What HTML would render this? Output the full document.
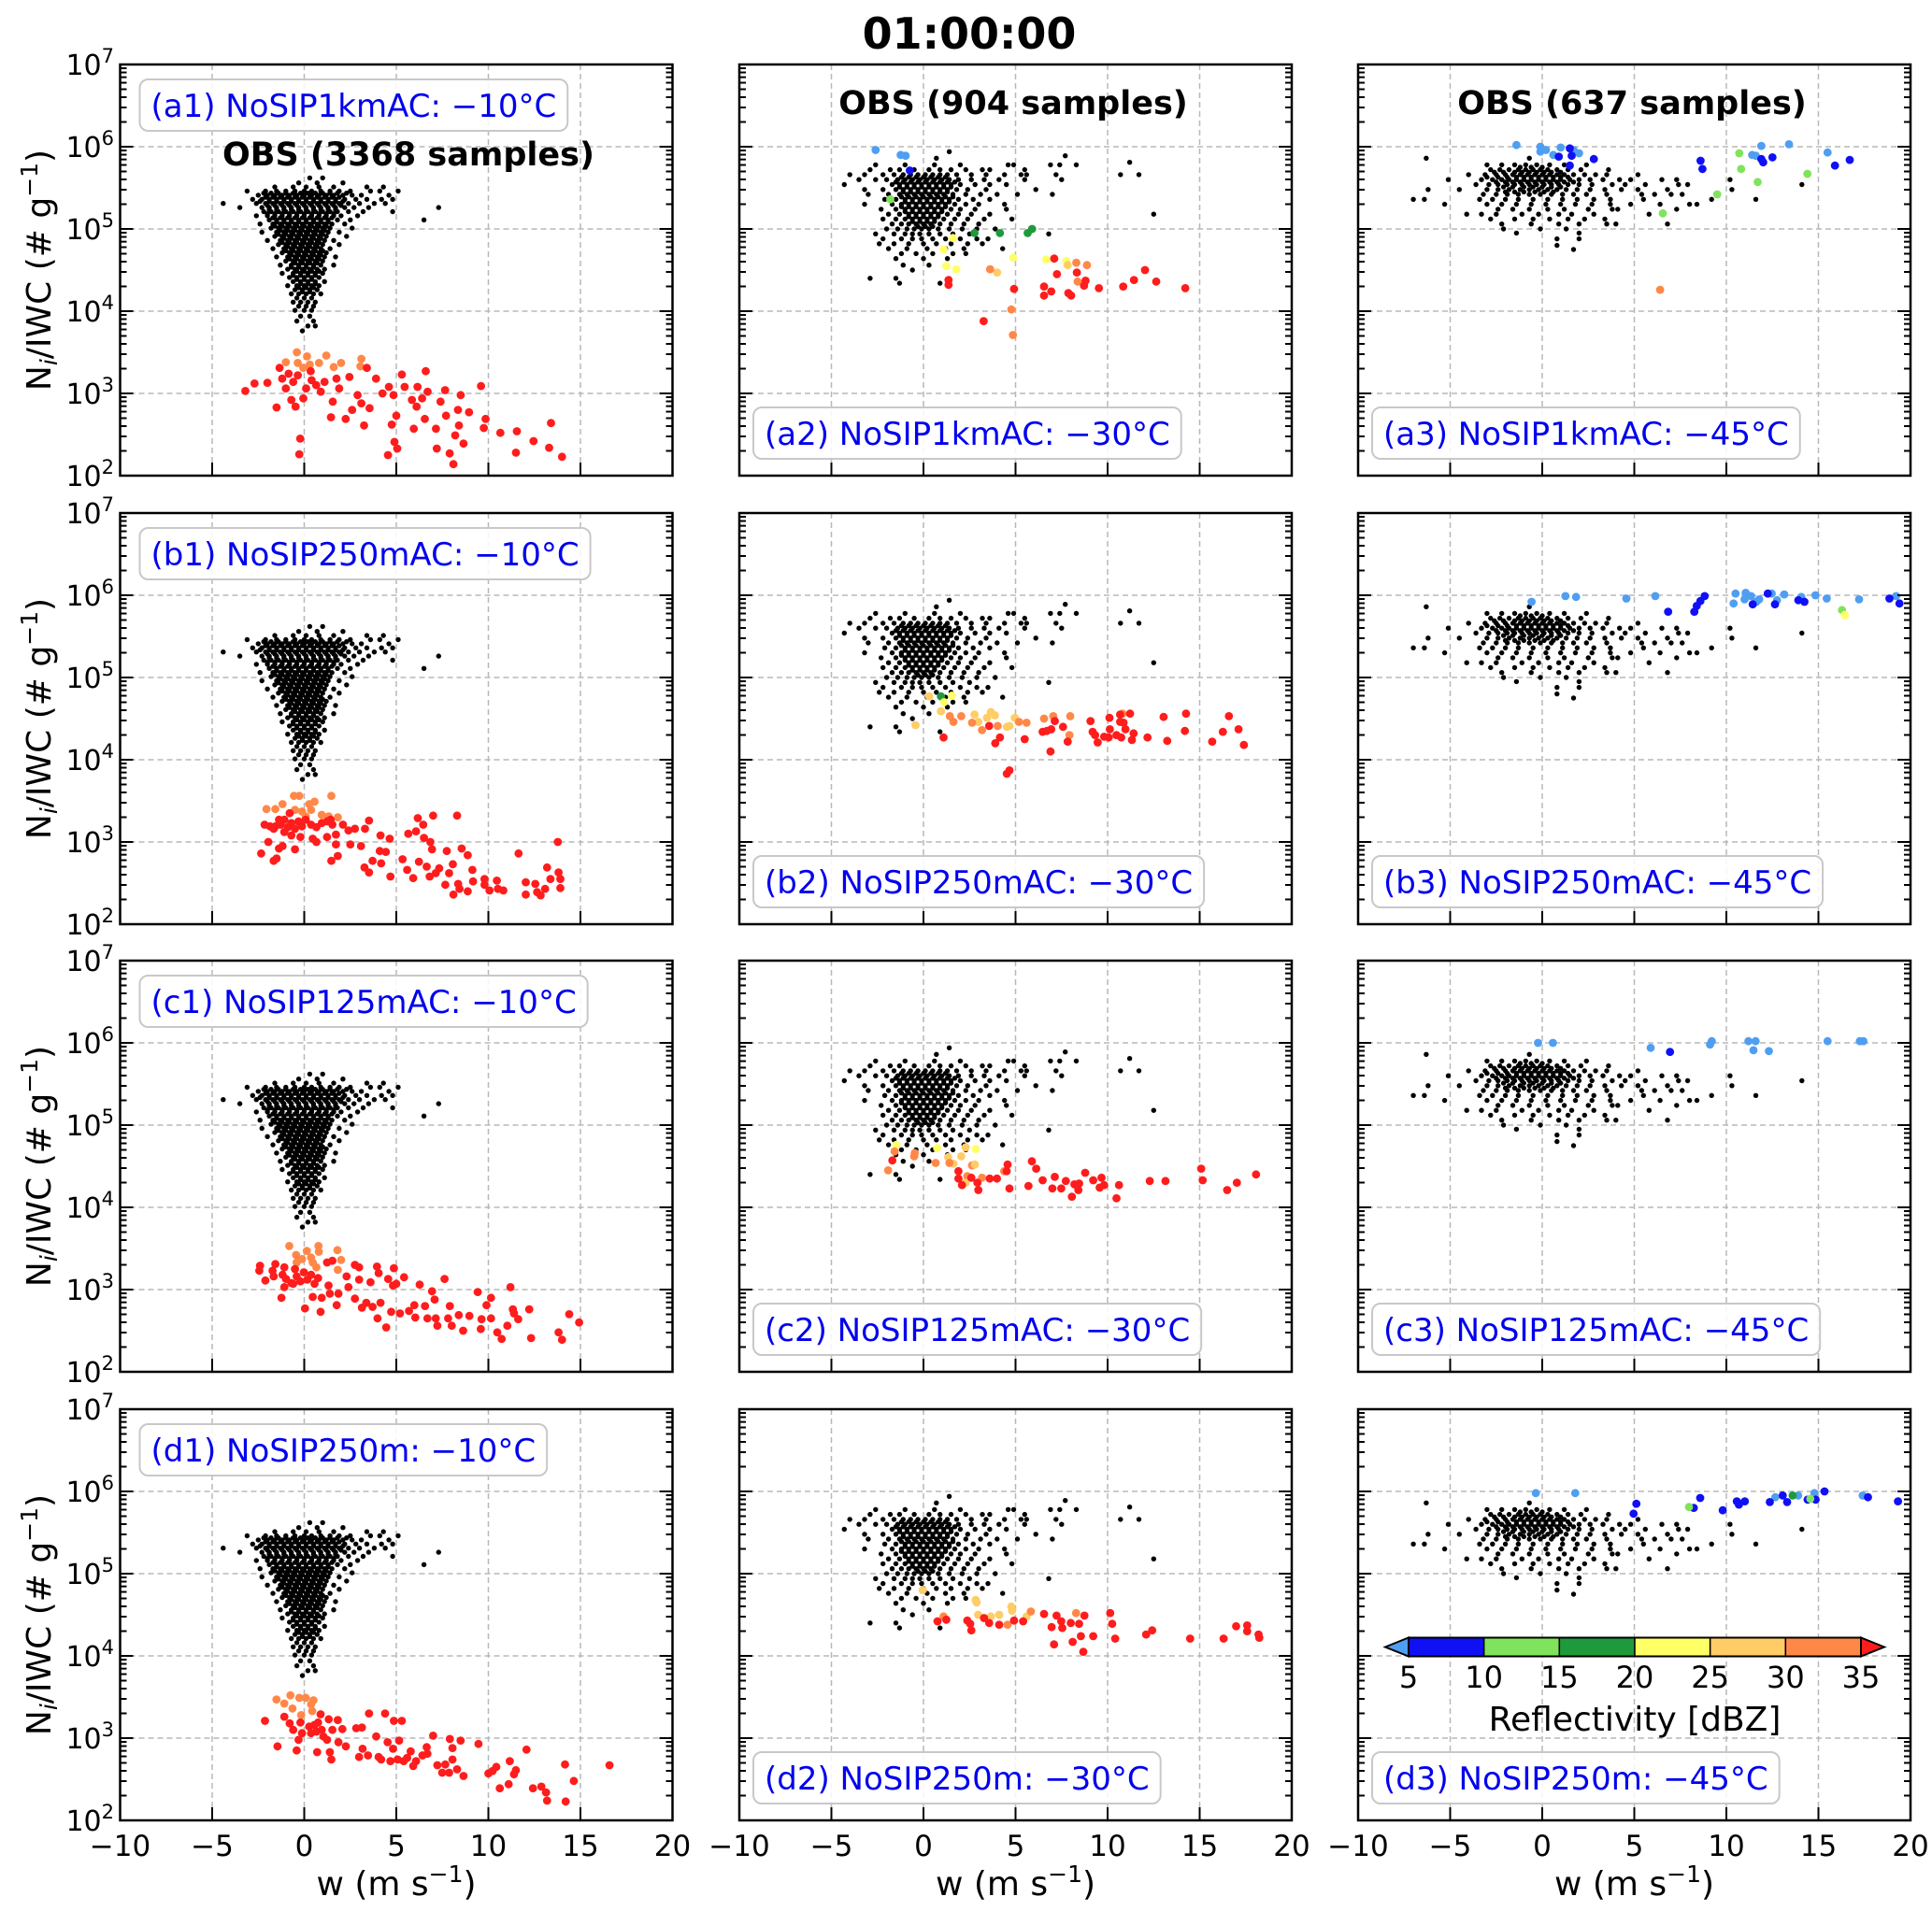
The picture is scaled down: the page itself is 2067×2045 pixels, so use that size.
<!DOCTYPE html>
<html><head><meta charset="utf-8">
<style>
html,body{margin:0;padding:0;background:#fff;}
svg{display:block;font-family:"DejaVu Sans","Liberation Sans",sans-serif;}
</style></head>
<body>
<svg id="fig" xmlns="http://www.w3.org/2000/svg" width="2067" height="2045" viewBox="0 0 2067 2045">
<rect x="0" y="0" width="2067" height="2045" fill="#fff"/>
<text x="1037" y="52" text-anchor="middle" font-size="46" font-weight="bold">01:00:00</text>
</svg>
<script>
// ---------- data ----------
const xTicks = [-10,-5,0,5,10,15,20];
const xTickLabels = ["\u221210","\u22125","0","5","10","15","20"];
const yDecades = [2,3,4,5,6,7];
const cbBounds = [5,10,15,20,25,30,35];
const cbColors = ["#4f9ef2","#1010f5","#80e35c","#1e9a3c","#ffff66","#ffcc66","#ff8848","#ff1c1c"];
const rowNames = ["a","b","c","d"];
const rowModels = ["NoSIP1kmAC","NoSIP250mAC","NoSIP125mAC","NoSIP250m"];
const colTemps = ["\u221210\u00b0C","\u221230\u00b0C","\u221245\u00b0C"];
const obsCounts = [3368,904,637];

// OBS clouds: rows of [log10(N/IWC), [w values]]
const obs1Rows = [
[5.62,[0.3,1.0]],[5.56,[-0.3,0.7,2.1]],[5.51,[-1.6,-0.6,0.1,0.8,1.6,3.4,4.3]],
[5.46,[-3.1,-2.1,-1.5,-1.0,-0.5,0.0,0.4,0.9,1.4,1.9,2.5,3.6,4.1,5.1]],
[5.41,[-2.5,-2.0,-1.6,-1.2,-0.8,-0.4,0.0,0.4,0.8,1.2,1.6,2.1,2.6,3.1,4.6]],
[5.36,[-2.8,-2.3,-1.9,-1.5,-1.1,-0.7,-0.3,0.1,0.5,0.9,1.3,1.7,2.2,2.8,3.4,4.2,4.8]],
[5.31,[-4.4,-2.6,-2.1,-1.7,-1.3,-0.9,-0.5,-0.1,0.3,0.7,1.1,1.5,1.9,2.4,3.0,3.8,4.4]],
[5.26,[-3.5,-2.3,-1.9,-1.5,-1.1,-0.7,-0.3,0.1,0.5,0.9,1.3,1.7,2.2,2.7,3.5,7.3]],
[5.21,[-2.2,-1.8,-1.4,-1.0,-0.6,-0.2,0.2,0.6,1.0,1.4,1.8,2.4,3.2,4.8]],
[5.16,[-2.6,-2.0,-1.6,-1.2,-0.8,-0.4,0.0,0.4,0.8,1.2,1.6,2.0,2.9]],
[5.11,[-1.9,-1.5,-1.1,-0.7,-0.3,0.1,0.5,0.9,1.3,1.8,2.5,6.5]],
[5.06,[-2.4,-1.7,-1.3,-0.9,-0.5,-0.1,0.3,0.7,1.1,1.5,2.2]],
[5.01,[-1.8,-1.4,-1.0,-0.6,-0.2,0.2,0.6,1.0,1.4,2.6]],
[4.96,[-2.3,-1.5,-1.1,-0.7,-0.3,0.1,0.5,0.9,1.3,1.9]],
[4.91,[-1.6,-1.2,-0.8,-0.4,0.0,0.4,0.8,1.2,2.3]],
[4.86,[-2.0,-1.3,-0.9,-0.5,-0.1,0.3,0.7,1.1,1.6]],
[4.81,[-1.4,-1.0,-0.6,-0.2,0.2,0.6,1.0,1.9]],
[4.76,[-1.7,-1.1,-0.7,-0.3,0.1,0.5,0.9,1.4]],
[4.71,[-1.2,-0.8,-0.4,0.0,0.4,0.8,1.2]],
[4.66,[-1.5,-0.9,-0.5,-0.1,0.3,0.7,1.1,1.7]],
[4.61,[-1.0,-0.6,-0.2,0.2,0.6,1.0]],
[4.56,[-1.3,-0.7,-0.3,0.1,0.5,0.9,1.6]],
[4.51,[-0.9,-0.5,-0.1,0.3,0.7,1.1]],
[4.46,[-1.2,-0.6,-0.2,0.2,0.6,1.0]],
[4.41,[-0.8,-0.4,0.0,0.4,0.8]],
[4.36,[-0.6,-0.2,0.2,0.6,1.1]],
[4.31,[-0.9,-0.4,0.0,0.4,0.8]],
[4.26,[-0.5,-0.1,0.3,0.7]],
[4.21,[-0.7,-0.3,0.1,0.5,0.9]],
[4.16,[-0.4,0.0,0.4]],
[4.11,[-0.6,-0.2,0.2,0.6]],
[4.06,[-0.3,0.1,0.5]],
[4.01,[-0.5,0.0,0.4]],
[3.94,[-0.2,0.3]],[3.88,[-0.4,0.5]],[3.82,[0.2,0.6]],[3.76,[-0.1]]
];
const obs1Core = [
[5.435,[-2.2,-1.8,-1.4,-1.0,-0.6,-0.2,0.2,0.6,1.0,1.4,1.8,2.3]],
[5.385,[-2.1,-1.7,-1.3,-0.9,-0.5,-0.1,0.3,0.7,1.1,1.5,1.9]],
[5.335,[-2.4,-1.9,-1.5,-1.1,-0.7,-0.3,0.1,0.5,0.9,1.3,1.7,2.1]],
[5.285,[-2.0,-1.6,-1.2,-0.8,-0.4,0.0,0.4,0.8,1.2,1.6,2.0]],
[5.235,[-1.9,-1.5,-1.1,-0.7,-0.3,0.1,0.5,0.9,1.3,1.7]],
[5.185,[-2.0,-1.6,-1.2,-0.8,-0.4,0.0,0.4,0.8,1.2,1.6]],
[5.135,[-1.7,-1.3,-0.9,-0.5,-0.1,0.3,0.7,1.1,1.5]],
[5.085,[-1.5,-1.1,-0.7,-0.3,0.1,0.5,0.9,1.3]],
[5.035,[-1.6,-1.2,-0.8,-0.4,0.0,0.4,0.8,1.2]],
[4.985,[-1.3,-0.9,-0.5,-0.1,0.3,0.7,1.1]],
[4.935,[-1.4,-1.0,-0.6,-0.2,0.2,0.6,1.0]],
[4.885,[-1.1,-0.7,-0.3,0.1,0.5,0.9]],
[4.835,[-1.2,-0.8,-0.4,0.0,0.4,0.8]],
[4.785,[-0.9,-0.5,-0.1,0.3,0.7]],
[4.735,[-1.0,-0.6,-0.2,0.2,0.6,1.0]],
[4.685,[-0.7,-0.3,0.1,0.5,0.9]],
[4.635,[-0.8,-0.4,0.0,0.4,0.8]],
[4.585,[-0.5,-0.1,0.3,0.7]],
[4.535,[-0.7,-0.3,0.1,0.5]],
[4.485,[-0.4,0.0,0.4,0.8]],
[4.435,[-0.6,-0.2,0.2,0.6]],
[4.385,[-0.4,0.0,0.4]],
[4.335,[-0.2,0.2,0.6]],
[4.285,[-0.3,0.1,0.5]],
[4.235,[-0.1,0.3]]
];
const obs2Rows = [
[5.94,[1.4]],[5.89,[7.7]],[5.86,[0.7]],[5.81,[11.2]],
[5.78,[-2.6,-1.0,0.6,2.0,4.6,4.9,6.9,7.4,8.3]],
[5.72,[-2.9,-1.8,-1.3,-0.5,0.3,0.9,1.5,2.3,3.2,3.6,5.5]],
[5.66,[-4.0,-3.2,-2.2,-1.6,-1.1,-0.7,-0.3,0.1,0.5,0.9,1.3,1.8,2.6,3.4,4.4,5.3,5.6,7.2,10.7,11.7]],
[5.60,[-3.5,-2.6,-2.0,-1.4,-1.0,-0.6,-0.2,0.2,0.6,1.0,1.4,1.9,2.6,3.3,4.1,5.5,7.5]],
[5.54,[-4.3,-1.7,-1.3,-0.9,-0.5,-0.1,0.3,0.7,1.1,1.5,2.0,2.8,3.6,4.5]],
[5.48,[-3.2,-2.2,-1.5,-1.1,-0.7,-0.3,0.1,0.5,0.9,1.3,1.8,2.4,3.4,6.1]],
[5.42,[-3.0,-1.9,-1.3,-0.9,-0.5,-0.1,0.3,0.7,1.1,1.6,2.3,3.1,4.0,5.1,7.0]],
[5.36,[-2.1,-1.5,-1.0,-0.6,-0.2,0.2,0.6,1.0,1.4,1.9,2.7,3.6]],
[5.30,[-3.2,-1.7,-1.2,-0.8,-0.4,0.0,0.4,0.8,1.2,1.7,2.3,3.0,4.4]],
[5.24,[-2.3,-1.5,-1.0,-0.6,-0.2,0.2,0.6,1.0,1.5,2.0,2.8,4.5]],
[5.18,[-1.9,-1.3,-0.8,-0.4,0.0,0.4,0.8,1.3,1.9,2.6,3.6,12.5]],
[5.12,[-2.2,-1.5,-1.0,-0.6,-0.2,0.2,0.6,1.1,1.7,2.4,3.3,4.8]],
[5.06,[-1.7,-1.2,-0.8,-0.4,0.0,0.4,0.9,1.5,2.2,3.0]],
[5.00,[-2.0,-1.4,-0.9,-0.5,-0.1,0.3,0.8,1.4,2.1,2.9,3.9]],
[4.94,[-2.6,-1.6,-1.0,-0.6,-0.2,0.3,0.9,1.6,2.5,6.8]],
[4.88,[-2.2,-1.2,-0.6,-0.1,0.5,1.2,2.0,2.9,3.5]],
[4.82,[-2.4,-1.6,-0.8,0.0,0.7,1.5,2.4,3.2]],
[4.76,[-1.9,-0.9,0.2,1.2,2.2,4.3]],
[4.70,[-1.2,-0.4,0.5,1.6,2.3]],
[4.64,[-1.5,0.0,1.3]],[4.56,[-1.1,0.3]],[4.50,[-0.6]],[4.40,[-2.9,-1.5]],[4.34,[-1.3,0.9]]
];
const obs2Core = [
[5.63,[-1.2,-0.8,-0.4,0.0,0.4,0.8,1.2]],
[5.57,[-1.5,-1.1,-0.7,-0.3,0.1,0.5,0.9,1.3,1.7]],
[5.51,[-1.3,-0.9,-0.5,-0.1,0.3,0.7,1.1,1.5]],
[5.45,[-1.1,-0.7,-0.3,0.1,0.5,0.9,1.3]],
[5.39,[-1.2,-0.8,-0.4,0.0,0.4,0.8,1.2,1.6]],
[5.33,[-1.0,-0.6,-0.2,0.2,0.6,1.0,1.4]],
[5.27,[-1.2,-0.8,-0.4,0.0,0.4,0.8,1.2]],
[5.21,[-1.0,-0.6,-0.2,0.2,0.6,1.0]],
[5.15,[-0.8,-0.4,0.0,0.4,0.8]],
[5.09,[-0.6,-0.2,0.2,0.6]],
[5.03,[-0.3,0.1,0.5]]
];
const obs3Rows = [
[5.86,[-6.3,-0.7]],
[5.78,[-3.0,-2.2,-1.5,-0.9,-0.3,0.4,1.2,2.4]],
[5.72,[-2.8,-2.3,-1.8,-1.3,-0.9,-0.5,-0.1,0.3,0.8,1.4,2.1,3.6]],
[5.66,[-4.0,-3.1,-2.5,-2.0,-1.6,-1.2,-0.8,-0.4,0.0,0.4,0.8,1.2,1.7,2.3,2.9,3.5,5.2]],
[5.60,[-5.1,-3.3,-2.7,-2.2,-1.8,-1.4,-1.0,-0.6,-0.2,0.2,0.6,1.0,1.5,2.0,2.6,3.3,4.2,4.8,6.5,7.3,10.2]],
[5.54,[-3.6,-2.9,-2.4,-1.9,-1.5,-1.1,-0.7,-0.3,0.1,0.5,0.9,1.4,2.0,2.7,3.8,4.5,5.6,7.4,7.9,14.1]],
[5.48,[-6.2,-4.5,-3.0,-2.4,-1.8,-1.2,-0.7,-0.2,0.3,0.8,1.3,1.9,2.6,3.4,4.3,5.2,6.8,10.3]],
[5.42,[-3.2,-2.5,-1.9,-1.3,-0.7,-0.1,0.5,1.1,1.7,2.4,3.5,5.4,6.1,7.0,7.6]],
[5.36,[-7.0,-6.4,-3.4,-2.7,-2.0,-1.3,-0.5,0.3,1.1,1.9,2.8,3.7,5.5,9.2,11.6]],
[5.30,[-5.3,-3.0,-2.2,-1.4,-0.6,0.2,1.0,1.8,2.7,3.7,4.8,6.4,8.0,8.4]],
[5.24,[-2.4,-1.6,-0.7,0.3,1.2,2.5,3.8,4.1,7.3]],
[5.18,[-4.1,-3.3,-2.5,-1.1,-0.2,0.9,1.6,2.8,5.8]],
[5.12,[-2.8,-1.5,-0.5,0.4,1.4,2.3,3.4]],
[5.06,[-2.2,-0.6,0.9,2.0,3.5,4.0,6.8]],
[5.00,[-2.1,-0.1,1.3]],[4.95,[-1.4,2.0]],[4.88,[0.8,2.0]],[4.80,[0.8]],[4.75,[1.7]]
];
const obs3Core = [
[5.75,[-1.2,-0.6,0.0]],
[5.69,[-2.6,-2.1,-1.5,-1.1,-0.7,-0.3,0.1,0.5,1.0]],
[5.63,[-3.0,-2.4,-1.9,-1.4,-1.0,-0.6,-0.2,0.2,0.6,1.0,1.4]],
[5.57,[-2.5,-2.0,-1.6,-1.2,-0.8,-0.4,0.0,0.4,0.8,1.2,1.7]],
[5.51,[-2.1,-1.6,-1.0,-0.5,0.0,0.5,1.0]],
[5.45,[-2.0,-1.5,-1.0,-0.4,0.1,0.6]]
];

// Model points: [w, log10(N/IWC), dBZ]
const mA1 = [[-0.4,3.5,32],[0.15,3.45,32],[-1,3.38,32],[-0.35,3.37,32],[1.2,3.46,32],[0.8,3.37,32],[2.0,3.37,32],[3.1,3.42,32],[3.05,3.33,32],[1.6,3.32,32],[-0.05,3.31,32],[0.3,3.35,32],
[-3.2,3.03,38],[-2.7,3.12,38],[-2.0,3.13,38],[-1.5,2.83,38],[-1.34,3.31,38],[-1.2,3.18,38],[-1.0,3.06,38],[-0.85,3.24,38],[-0.7,2.92,38],[-0.47,2.84,38],[-0.6,3.14,38],[-0.35,3.22,38],[-0.22,2.45,38],[-0.27,2.26,38],[-0.05,2.94,38],[0.1,3.06,38],[0.4,3.16,38],[0.35,3.27,38],[0.65,3.1,38],[0.9,3.02,38],[1.1,3.14,38],[1.45,2.71,38],[1.55,2.9,38],[1.75,3.18,38],[1.9,3.06,38],[2.25,2.69,38],[2.45,3.2,38],[2.6,2.8,38],[2.9,2.98,38],[3.1,2.88,38],[3.25,2.61,38],[3.4,3.31,38],[3.55,2.82,38],[3.9,3.18,38],[4.25,3.0,38],[4.6,3.08,38],[4.75,2.62,38],[4.85,2.98,38],[4.9,2.41,38],[5.05,2.33,38],[5.0,2.73,38],[4.55,2.25,38],[5.3,3.23,38],[5.45,3.08,38],[5.85,2.92,38],[5.95,2.57,38],[6.1,2.84,38],[6.15,3.08,38],[6.4,2.94,38],[6.6,3.27,38],[6.55,2.69,38],[6.7,3.02,38],[7.15,2.57,38],[7.2,2.33,38],[7.4,2.9,38],[7.65,3.04,38],[7.7,2.73,38],[7.9,2.27,38],[8.1,2.14,38],[8.2,2.49,38],[8.35,2.8,38],[8.4,2.61,38],[8.5,2.98,38],[8.65,2.39,38],[8.95,2.77,38],[9.6,3.09,38],[9.75,2.58,38],[9.85,2.69,38],[10.65,2.52,38],[11.5,2.28,38],[11.55,2.54,38],[12.45,2.42,38],[13.3,2.34,38],[13.4,2.64,38],[14.0,2.23,38]];
const mA2 = [[-2.6,5.96,3],[-1.24,5.9,3],[-0.97,5.89,3],[-0.74,5.71,7],[-1.8,5.36,12],[2.77,4.95,17],[4.15,4.95,17],[5.66,4.95,17],[5.9,5.0,17],[1.6,4.89,22],[1.09,4.75,22],[1.24,4.55,22],[1.78,4.51,22],[4.88,4.65,22],[6.67,4.63,22],[7.75,4.61,22],[7.83,4.56,27],[4.0,4.47,27],[3.62,4.51,32],[8.3,4.59,32],[8.88,4.56,32],[8.37,4.36,32],[4.77,4.02,32],[4.86,3.71,32],
[7.1,4.64,38],[1.36,4.38,38],[1.36,4.32,38],[4.92,4.27,38],[6.55,4.3,38],[6.55,4.19,38],[6.94,4.24,38],[7.25,4.45,38],[7.87,4.22,38],[8.02,4.19,38],[8.33,4.47,38],[8.72,4.31,38],[8.8,4.37,38],[9.53,4.28,38],[10.85,4.3,38],[11.43,4.38,38],[12.03,4.5,38],[12.64,4.36,38],[14.22,4.28,38],[3.27,3.88,38]];
const mA3 = [[-1.4,6.02,3],[-0.1,6.0,3],[-0.1,5.94,3],[0.2,5.96,3],[1.0,5.99,3],[0.6,5.9,3],[1.7,5.96,3],[2.0,5.92,3],[11.4,5.9,3],[11.6,5.89,3],[11.9,6.01,3],[13.4,6.03,3],[15.5,5.93,3],
[1.5,5.98,7],[0.9,5.88,7],[1.6,5.89,7],[1.5,5.77,7],[2.8,5.85,7],[8.6,5.83,7],[8.7,5.73,7],[11.9,5.85,7],[12.0,5.81,7],[12.5,5.87,7],[15.9,5.77,7],[16.7,5.84,7],
[10.7,5.92,12],[10.8,5.73,12],[11.7,5.57,12],[14.4,5.67,12],[9.5,5.42,12],[6.55,5.19,12],[6.4,4.26,32]];
const mB1 = [[-2.05,3.4,32],[-1.57,3.4,32],[-1.18,3.46,32],[-0.56,3.56,32],[-0.27,3.56,32],[1.47,3.56,32],[-0.5,3.39,32],[-0.12,3.37,32],[0.27,3.46,32],[0.56,3.49,32],[0.37,3.39,32],[0.95,3.33,32],[1.82,3.3,32],[1.33,3.31,32],[0.08,3.31,32],
[-2.15,3.21,38],[-1.86,3.19,38],[-1.57,3.19,38],[-1.28,3.21,38],[-1.08,3.27,38],[-0.89,3.18,38],[-0.7,3.23,38],[-0.5,3.16,38],[-0.31,3.25,38],[-0.12,3.19,38],[0.08,3.27,38],[0.37,3.21,38],[0.66,3.18,38],[0.95,3.23,38],[1.24,3.25,38],[1.43,3.27,38],[1.53,3.21,38],[-0.79,3.35,38],[-1.37,3.27,38],[-1.66,3.16,38],[-1.08,3.12,38],[-0.7,3.08,38],[-0.21,3.06,38],[-1.18,2.95,38],[-1.37,2.92,38],[-1.95,3.0,38],[-0.5,2.91,38],[-2.34,2.86,38],[-1.66,2.77,38],[-1.5,2.8,38],[0.46,3.04,38],[0.66,3.0,38],[1.24,3.06,38],[1.72,2.97,38],[1.82,2.83,38],[1.47,2.77,38],[1.72,3.09,38],[2.1,3.21,38],[2.4,3.14,38],[2.5,2.97,38],[2.75,3.16,38],[3.08,2.95,38],[3.3,3.16,38],[3.52,3.26,38],[3.27,2.69,38],[3.52,2.63,38],[3.71,2.77,38],[4.14,3.08,38],[4.1,2.89,38],[4.18,2.74,38],[4.43,2.88,38],[4.68,2.58,38],[4.64,3.04,38],[5.34,2.79,38],[5.59,2.66,38],[5.65,3.1,38],[5.92,2.56,38],[6.07,3.13,38],[6.17,3.29,38],[6.23,2.76,38],[6.46,3.21,38],[6.5,3.05,38],[6.65,2.7,38],[6.85,3.0,38],[6.94,2.91,38],[7.0,3.32,38],[6.81,2.58,38],[7.14,2.62,38],[7.33,2.68,38],[7.66,2.48,38],[7.74,2.89,38],[7.87,2.62,38],[8.07,2.73,38],[8.1,2.36,38],[8.3,3.32,38],[8.36,2.49,38],[8.43,2.43,38],[8.55,2.92,38],[8.88,2.4,38],[8.88,2.84,38],[9.13,2.66,38],[9.17,2.52,38],[9.79,2.55,38],[9.79,2.48,38],[10.06,2.41,38],[10.46,2.53,38],[10.52,2.43,38],[10.81,2.41,38],[11.64,2.86,38],[12.03,2.36,38],[12.03,2.51,38],[12.55,2.49,38],[12.65,2.39,38],[12.84,2.35,38],[13.08,2.43,38],[13.19,2.69,38],[13.37,2.55,38],[13.81,2.63,38],[13.91,2.55,38],[13.91,2.44,38],[13.77,3.0,38]];
const mB2 = [[0.31,4.77,27],[0.95,4.77,17],[1.55,4.78,22],[1.12,4.7,22],[0.95,4.59,27],[-0.43,4.42,27],[1.43,4.53,32],[1.63,4.46,32],[2.05,4.53,32],[2.77,4.55,27],[2.98,4.46,27],[2.64,4.45,32],[3.18,4.36,32],[3.45,4.51,27],[3.66,4.58,27],[3.88,4.54,27],[4.03,4.41,32],[4.53,4.4,27],[4.67,4.41,27],[4.96,4.51,27],[5.19,4.46,32],[5.6,4.45,32],[6.55,4.5,32],[7.05,4.53,32],[7.97,4.53,32],[7.93,4.3,32],[10.81,4.56,32],
[1.09,4.27,38],[3.57,4.41,38],[3.9,4.2,38],[4.15,4.27,38],[5.5,4.25,38],[4.53,3.83,38],[4.67,3.87,38],[6.47,4.34,38],[6.7,4.35,38],[6.94,4.37,38],[7.13,4.47,38],[6.9,4.1,38],[7.58,4.4,38],[7.83,4.22,38],[9.07,4.47,38],[9.19,4.34,38],[9.32,4.3,38],[9.46,4.21,38],[9.81,4.28,38],[10.06,4.27,38],[10.1,4.51,38],[10.12,4.37,38],[10.68,4.55,38],[10.68,4.46,38],[10.87,4.45,38],[10.97,4.37,38],[10.48,4.3,38],[10.74,4.27,38],[11.22,4.56,38],[11.41,4.32,38],[11.32,4.24,38],[12.17,4.27,38],[13.04,4.52,38],[13.24,4.23,38],[14.26,4.56,38],[14.2,4.35,38],[15.68,4.22,38],[16.26,4.34,38],[16.59,4.53,38],[17.11,4.37,38],[17.4,4.18,38]];
const mB3 = [[-0.58,5.92,3],[1.26,5.99,3],[1.84,5.98,3],[4.57,5.96,3],[6.14,5.99,3],[10.5,6.02,3],[10.39,5.9,3],[11.05,6.03,3],[10.99,5.95,3],[11.34,5.99,3],[11.63,5.92,3],[11.78,5.95,3],[12.46,6.02,3],[12.75,5.94,3],[13.14,6.01,3],[14.07,5.98,3],[14.84,6.0,3],[15.45,5.96,3],[17.21,5.95,3],[19.22,5.99,3],
[6.84,5.8,7],[8.26,5.8,7],[8.39,5.87,7],[8.59,5.93,7],[8.82,5.99,7],[11.43,5.89,7],[12.25,6.02,7],[12.64,5.89,7],[13.91,5.94,7],[14.24,5.92,7],[18.86,5.96,7],[19.4,5.9,7],[16.28,5.82,12],[16.43,5.76,22]];
const mC1 = [[-0.81,3.53,32],[-0.44,3.42,32],[0.14,3.47,32],[0.77,3.53,32],[0.79,3.46,32],[1.8,3.48,32],[2.0,3.36,32],[-0.12,3.37,32],[0.37,3.39,32],[0.46,3.33,32],[-0.41,3.33,32],[1.82,3.24,32],[0.66,3.27,32],
[-2.4,3.29,38],[-2.44,3.23,38],[-2.11,3.11,38],[-1.72,3.23,38],[-1.57,3.31,38],[-1.66,3.16,38],[-1.18,3.18,38],[-1.08,3.27,38],[-0.99,3.13,38],[-0.7,3.08,38],[-0.5,3.25,38],[-0.41,3.16,38],[-0.21,3.1,38],[-0.02,3.21,38],[0.17,3.12,38],[0.37,3.18,38],[0.56,3.07,38],[0.75,3.14,38],[-1.08,3.03,38],[-1.24,2.9,38],[-0.6,3.07,38],[0.04,2.77,38],[0.46,2.91,38],[0.89,2.73,38],[0.95,2.9,38],[1.32,3.05,38],[1.39,2.95,38],[1.76,2.81,38],[1.86,2.95,38],[1.24,3.33,38],[1.53,3.35,38],[2.3,3.16,38],[2.4,3.03,38],[2.75,3.3,38],[2.98,3.27,38],[2.98,3.12,38],[2.75,2.89,38],[3.13,2.78,38],[3.37,2.84,38],[3.6,3.09,38],[3.71,2.79,38],[3.95,3.28,38],[4.04,3.2,38],[4.14,2.84,38],[3.98,2.65,38],[4.45,2.54,38],[4.56,3.13,38],[4.72,2.73,38],[4.82,3.05,38],[4.87,3.26,38],[5.0,3.07,38],[5.2,2.71,38],[5.42,3.15,38],[5.69,2.74,38],[5.98,2.81,38],[6.03,2.66,38],[6.27,3.06,38],[6.56,2.8,38],[6.69,2.65,38],[6.94,2.98,38],[7.08,2.88,38],[7.14,2.65,38],[7.23,2.56,38],[7.62,3.13,38],[7.81,2.65,38],[7.91,2.8,38],[8.01,2.56,38],[8.39,2.69,38],[8.63,2.5,38],[8.97,2.68,38],[9.42,2.97,38],[9.59,2.52,38],[9.63,2.64,38],[9.9,2.81,38],[10.14,2.9,38],[10.14,2.65,38],[10.48,2.48,38],[10.72,2.4,38],[11.03,2.56,38],[11.2,3.03,38],[11.33,2.76,38],[11.39,2.71,38],[11.62,2.64,38],[12.22,2.76,38],[12.32,2.41,38],[13.81,2.48,38],[14.0,2.39,38],[14.39,2.7,38],[14.93,2.6,38]];
const mC2 = [[-1.47,4.76,22],[0.74,4.72,22],[2.83,4.71,22],[2.29,4.73,27],[-1.57,4.68,32],[-0.47,4.66,32],[-0.5,4.62,32],[-1.92,4.45,32],[1.34,4.61,27],[2.05,4.62,27],[1.63,4.53,27],[1.41,4.54,32],[0.66,4.54,32],[2.64,4.51,32],[2.79,4.52,27],[2.38,4.38,32],[3.18,4.36,32],[4.38,4.44,32],[2.29,4.3,27],
[-1.69,4.57,38],[1.9,4.44,38],[1.9,4.35,38],[2.09,4.27,38],[2.6,4.36,38],[2.93,4.3,38],[2.98,4.21,38],[3.6,4.35,38],[3.99,4.35,38],[4.57,4.52,38],[4.52,4.44,38],[4.67,4.23,38],[5.7,4.26,38],[5.89,4.56,38],[6.12,4.47,38],[6.47,4.33,38],[7.0,4.23,38],[7.13,4.37,38],[7.48,4.23,38],[7.73,4.32,38],[8.06,4.13,38],[8.2,4.28,38],[8.45,4.29,38],[8.41,4.21,38],[8.78,4.42,38],[9.22,4.33,38],[9.57,4.24,38],[9.67,4.36,38],[9.81,4.27,38],[10.48,4.11,38],[10.62,4.27,38],[12.29,4.32,38],[13.14,4.32,38],[15.08,4.47,38],[15.16,4.33,38],[16.49,4.21,38],[17.02,4.3,38],[18.06,4.4,38]];
const mC3 = [[-0.23,6.0,3],[0.58,6.0,3],[5.89,5.94,3],[9.11,5.98,3],[9.21,6.02,3],[11.2,6.02,3],[11.59,6.02,3],[11.47,5.91,3],[12.31,5.9,3],[15.5,6.02,3],[17.25,6.02,3],[17.44,6.02,3],[6.94,5.89,7]];
const mD1 = [[-1.51,3.47,32],[-1.08,3.42,32],[-0.75,3.52,32],[-0.64,3.36,32],[-0.27,3.49,32],[0.08,3.49,32],[0.37,3.41,32],[0.5,3.46,32],[0.43,3.33,32],[-0.17,3.28,32],
[-2.13,3.21,38],[-1.45,2.9,38],[-1.08,3.26,38],[-0.79,3.18,38],[-0.6,3.1,38],[-0.41,2.85,38],[-0.31,2.98,38],[-0.21,3.19,38],[-0.12,3.06,38],[0.27,3.14,38],[0.37,3.06,38],[0.56,3.16,38],[0.66,3.08,38],[0.75,3.19,38],[0.89,3.29,38],[0.95,3.1,38],[1.04,3.02,38],[0.7,2.83,38],[1.24,2.98,38],[1.33,3.23,38],[1.39,2.83,38],[1.47,2.74,38],[1.53,3.1,38],[1.82,3.22,38],[1.86,2.95,38],[2.07,3.11,38],[2.26,2.9,38],[2.82,3.12,38],[2.98,2.77,38],[3.13,3.13,38],[3.17,2.87,38],[3.46,2.79,38],[3.52,3.3,38],[3.91,3.02,38],[4.04,2.77,38],[4.18,2.74,38],[4.39,3.3,38],[4.53,2.95,38],[4.68,2.72,38],[4.82,2.87,38],[4.87,3.21,38],[5.07,2.74,38],[5.15,2.97,38],[5.3,3.21,38],[5.4,2.72,38],[5.59,2.76,38],[5.78,2.84,38],[5.92,2.66,38],[6.07,2.72,38],[6.42,2.79,38],[6.65,2.89,38],[6.69,2.81,38],[7.0,3.03,38],[7.23,2.67,38],[7.49,2.58,38],[7.66,2.68,38],[7.91,2.99,38],[7.87,2.58,38],[8.05,2.88,38],[8.05,2.74,38],[8.3,2.62,38],[8.49,2.97,38],[8.65,2.54,38],[9.46,2.93,38],[10.0,2.57,38],[10.23,2.6,38],[10.43,2.65,38],[10.62,2.39,38],[11.1,2.44,38],[11.16,2.72,38],[11.39,2.56,38],[11.49,2.61,38],[12.07,2.86,38],[12.42,2.39,38],[12.88,2.41,38],[13.13,2.34,38],[13.19,2.24,38],[14.16,2.68,38],[14.2,2.23,38],[14.64,2.48,38],[16.58,2.67,38]];
const mD2 = [[-0.04,4.8,27],[2.83,4.68,27],[2.89,4.65,27],[2.97,4.5,27],[3.66,4.48,27],[4.11,4.5,27],[4.77,4.6,27],[4.81,4.55,27],[5.6,4.48,27],[1.09,4.48,32],[4.57,4.38,32],[5.83,4.54,32],[8.29,4.52,32],
[0.76,4.42,38],[1.24,4.44,38],[2.38,4.43,38],[2.54,4.39,38],[2.6,4.31,38],[3.29,4.46,38],[3.57,4.4,38],[4.11,4.38,38],[4.92,4.43,38],[5.41,4.42,38],[6.55,4.51,38],[6.96,4.35,38],[7.09,4.14,38],[7.23,4.49,38],[7.48,4.42,38],[7.54,4.34,38],[8.0,4.4,38],[8.1,4.17,38],[8.45,4.39,38],[8.55,4.24,38],[8.74,4.49,38],[8.68,4.05,38],[9.22,4.24,38],[10.14,4.52,38],[10.25,4.39,38],[10.41,4.21,38],[12.09,4.26,38],[12.42,4.31,38],[14.48,4.21,38],[16.3,4.21,38],[16.98,4.36,38],[17.58,4.37,38],[17.58,4.3,38],[18.2,4.26,38],[18.24,4.22,38]];
const mD3 = [[-0.35,5.98,3],[1.79,5.98,3],[12.66,5.93,3],[13.9,5.95,3],[14.78,5.98,3],[17.4,5.95,3],
[5.11,5.85,7],[4.96,5.73,7],[8.23,5.8,7],[8.58,5.92,7],[9.8,5.77,7],[10.57,5.88,7],[10.68,5.84,7],[11.0,5.88,7],[12.36,5.87,7],[13.06,5.95,7],[13.3,5.87,7],[14.41,5.9,7],[14.85,5.9,7],[15.33,6.0,7],[17.69,5.93,7],[19.32,5.88,7],
[7.97,5.81,12],[14.56,5.91,12],[13.6,5.95,17]];

const models = [[mA1,mA2,mA3],[mB1,mB2,mB3],[mC1,mC2,mC3],[mD1,mD2,mD3]];
const obsRows = [obs1Rows.concat(obs1Core),obs2Rows.concat(obs2Core),obs3Rows.concat(obs3Core)];

// ---------- layout ----------
const NS = "http://www.w3.org/2000/svg";
const svg = document.getElementById('fig');
const colX = [128.5, 791, 1453];
const rowY = [69, 549, 1028, 1508];
const PW = 591, PH = 440;
function mk(tag, attrs, parent){
  const e = document.createElementNS(NS, tag);
  for (const k in attrs) e.setAttribute(k, attrs[k]);
  (parent||svg).appendChild(e);
  return e;
}
function colorFor(z){
  if (z < cbBounds[0]) return cbColors[0];
  for (let i=1;i<cbBounds.length;i++) if (z < cbBounds[i]) return cbColors[i];
  return cbColors[cbColors.length-1];
}

for (let r=0;r<4;r++){
  for (let c=0;c<3;c++){
    const x0 = colX[c], y0 = rowY[r];
    const X = w => x0 + (w - xTicks[0]) * PW / (xTicks[xTicks.length-1]-xTicks[0]);
    const Y = ly => y0 + (yDecades[yDecades.length-1] - ly) * PH / (yDecades[yDecades.length-1]-yDecades[0]);
    const g = mk('g', {});
    
    
    const gg = mk('g', {stroke:'#b8b8b8','stroke-width':1.5,'stroke-dasharray':'6,4'}, g);
    
    
    xTicks.slice(1,-1).forEach(t=>{ mk('line',{x1:X(t),x2:X(t),y1:y0,y2:y0+PH},gg); });
    yDecades.slice(1,-1).forEach(d=>{ mk('line',{x1:x0,x2:x0+PW,y1:Y(d),y2:Y(d)},gg); });
    const og = mk('g', {fill:'#000'}, g);
    
    
    obsRows[c].forEach(row=>{
      row[1].forEach(w=>{ mk('circle',{cx:X(w).toFixed(1),cy:Y(row[0]).toFixed(1),r:2.7},og); });
    });
    const mg = mk('g', {}, g);
    
    
    models[r][c].forEach(p=>{
      mk('circle',{cx:X(p[0]).toFixed(1),cy:Y(p[1]).toFixed(1),r:4.4,fill:colorFor(p[2])},mg);
    });
    const tg = mk('g', {stroke:'#000','stroke-width':2}, g);
    
    
    xTicks.slice(1,-1).forEach(t=>{ mk('line',{x1:X(t),x2:X(t),y1:y0+PH,y2:y0+PH-14},tg); });
    for (let d=yDecades[0]; d<yDecades[yDecades.length-1]; d++){
      for (let m=1;m<10;m++){
        const yy = Y(d + Math.log10(m));
        const L = m===1 ? 14 : 7;
        mk('line',{x1:x0,x2:x0+L,y1:yy,y2:yy},tg);
        mk('line',{x1:x0+PW,x2:x0+PW-L,y1:yy,y2:yy},tg);
      }
    }
    const fr = mk('rect',{x:x0,y:y0,width:PW,height:PH,fill:'none',stroke:'#000','stroke-width':2.5},g);
    
    
    if (c===0){
      yDecades.forEach(d=>{
        const t = mk('text',{x:122,y:Y(d)+11,'text-anchor':'end','font-size':30},g);
        
        
        t.appendChild(document.createTextNode('10'));
        const s = mk('tspan',{dy:-13,'font-size':21},t);
        s.textContent = String(d);
      });
      const cy = y0 + PH/2;
      const yl = mk('text',{x:0,y:0,'text-anchor':'middle','font-size':36,transform:'translate(54,'+cy+') rotate(-90)'},g);
      
      
      yl.appendChild(document.createTextNode('N'));
      const si = mk('tspan',{'font-style':'italic','font-size':25,dy:7},yl); si.textContent='i';
      const s2 = mk('tspan',{dy:-7},yl); s2.textContent='/IWC (# g';
      const s3 = mk('tspan',{dy:-14,'font-size':25},yl); s3.textContent='\u22121';
      const s4 = mk('tspan',{dy:14},yl); s4.textContent=')';
    }
    if (r===3){
      xTicks.forEach((t,i)=>{
        const tl = mk('text',{x:X(t),y:y0+PH+38,'text-anchor':'middle','font-size':31},g);
        
        
        tl.textContent = xTickLabels[i];
      });
      const xl = mk('text',{x:x0+PW/2,y:y0+PH+80,'text-anchor':'middle','font-size':36},g);
      
      
      xl.appendChild(document.createTextNode('w (m s'));
      const sx = mk('tspan',{dy:-14,'font-size':25},xl); sx.textContent='\u22121';
      const sx2 = mk('tspan',{dy:14},xl); sx2.textContent=')';
    }
    if (r===0){
      const ox = c===0 ? 437 : x0 + 293;
      const oy = c===0 ? 177 : 122;
      const ol = mk('text',{x:ox,y:oy,'text-anchor':'middle','font-size':35,'font-weight':'bold'},g);
      
      
      ol.textContent = 'OBS (' + obsCounts[c] + ' samples)';
    }
    const lg = mk('g',{},g);
    
    
    const boxTop = c===0 ? y0+16 : y0+367;
    const boxLeft = c===0 ? x0+21 : x0+15;
    const rect = mk('rect',{x:boxLeft,y:boxTop,width:10,height:55,rx:9,fill:'#fff','fill-opacity':0.85,stroke:'#c8c8c8','stroke-width':2},lg);
    const lt = mk('text',{x:boxLeft+12,y:boxTop+40,'font-size':34,fill:'#0000ee'},lg);
    lt.textContent = '(' + rowNames[r] + (c+1) + ') ' + rowModels[r] + ': ' + colTemps[c];
    rect.setAttribute('width', lt.getComputedTextLength() + 24);
  }
}

// ---------- colorbar ----------
(function(){
  const cg = mk('g',{});
  
  
  const bx0 = 1507, bx1 = 1991, by0 = 1752.5, by1 = 1772.5, tip = 25;
  const CX = v => bx0 + (v - cbBounds[0]) * (bx1-bx0) / (cbBounds[cbBounds.length-1]-cbBounds[0]);
  const ym = (by0+by1)/2;
  mk('polygon',{points:(bx0-tip)+','+ym+' '+bx0+','+by0+' '+bx0+','+by1,fill:cbColors[0],stroke:'#000','stroke-width':2},cg);
  mk('polygon',{points:(bx1+tip)+','+ym+' '+bx1+','+by0+' '+bx1+','+by1,fill:cbColors[cbColors.length-1],stroke:'#000','stroke-width':2},cg);
  for (let i=0;i<cbBounds.length-1;i++){
    const seg = mk('rect',{x:CX(cbBounds[i]),y:by0,width:CX(cbBounds[i+1])-CX(cbBounds[i]),height:by1-by0,fill:cbColors[i+1],stroke:'#000','stroke-width':1.5},cg);
    
    
  }
  mk('rect',{x:bx0,y:by0,width:bx1-bx0,height:by1-by0,fill:'none',stroke:'#000','stroke-width':2},cg);
  cbBounds.forEach(v=>{
    const t = mk('text',{x:CX(v),y:1806,'text-anchor':'middle','font-size':32},cg);
    
    
    t.textContent = String(v);
  });
  const ct = mk('text',{x:1749,y:1852,'text-anchor':'middle','font-size':36},cg);
  
  
  ct.textContent = 'Reflectivity [dBZ]';
})();
</script>
</body></html>
